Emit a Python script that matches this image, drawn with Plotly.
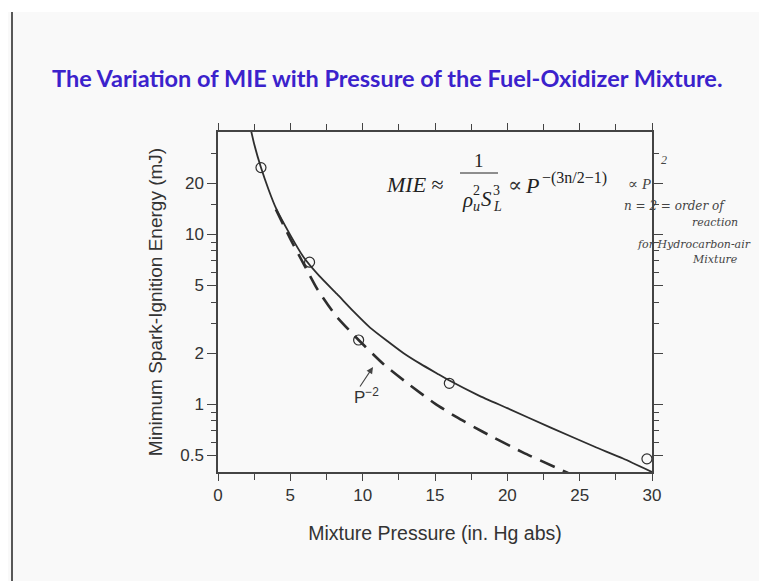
import numpy as np
import plotly.graph_objects as go

# ---- data ----
solid_x = [2.1, 2.5, 2.97, 3.5, 4.0, 5.0, 5.92, 7.0, 8.22, 9.4, 10.53, 11.7, 12.83, 14.0, 15.14, 16.0, 18.0, 20.0, 23.0, 26.0, 28.0, 30.0]
solid_y = [48.0, 34.0, 24.7, 18.3, 14.3, 9.9, 7.34, 5.7, 4.46, 3.5, 2.82, 2.36, 2.0, 1.73, 1.52, 1.38, 1.13, 0.95, 0.73, 0.565, 0.48, 0.40]

dashed_x = [4.0, 5.0, 6.0, 6.84, 8.11, 9.72, 11.45, 13.3, 15.0, 16.5, 18.3, 21.1, 24.2]
dashed_y = [14.0, 9.4, 6.5, 4.8, 3.35, 2.39, 1.72, 1.29, 1.01, 0.84, 0.69, 0.52, 0.395]

circle_x = [2.97, 6.33, 9.72, 15.99, 29.65]
circle_y = [24.7, 6.86, 2.39, 1.33, 0.478]

x_ticks = [0, 5, 10, 15, 20, 25, 30]
y_ticks = [0.5, 1, 2, 5, 10, 20]
y_tick_text = ["0.5", "1", "2", "5", "10", "20"]
y_minor = [0.6, 0.7, 0.8, 0.9, 3, 4, 6, 7, 8, 9, 15, 30]

title_text = "The Variation of MIE with Pressure of the Fuel-Oxidizer Mixture."
x_title = "Mixture Pressure (in. Hg abs)"
y_title = "Minimum Spark-Ignition Energy (mJ)"

# ---- layout geometry (page pixels; the page body adds an 8px offset) ----
OFF = 8
PW, PH = 767, 581
W, H = PW - OFF, PH - OFF
L, R, T, B = 218, 652, 132, 472


def px(xp):
    return (xp - L) / (R - L)


def py(yp):
    return (B - yp) / (B - T)


INK = "#2e2e2e"

fig = go.Figure()
fig.add_trace(go.Scatter(x=solid_x, y=solid_y, mode="lines",
                         line=dict(color=INK, width=1.8, shape="spline", smoothing=0.5),
                         showlegend=False))
fig.add_trace(go.Scatter(x=dashed_x, y=dashed_y, mode="lines",
                         line=dict(color=INK, width=2.6, dash="16px,9px", shape="spline", smoothing=0.5),
                         showlegend=False))
fig.add_trace(go.Scatter(x=circle_x, y=circle_y, mode="markers",
                         marker=dict(symbol="circle-open", size=10, color=INK,
                                     line=dict(width=1.2, color=INK)),
                         showlegend=False))

axis_font = dict(family="Liberation Sans, Arial, sans-serif", size=17, color="#333")

fig.update_layout(
    width=W, height=H,
    margin=dict(l=L - OFF, r=PW - R, t=T - OFF, b=PH - B, pad=0, autoexpand=False),
    paper_bgcolor="#f9f9f9",
    plot_bgcolor="#f9f9f9",
    font=axis_font,
    xaxis=dict(range=[0, 30], tickvals=x_ticks, ticks="outside", ticklen=7, tickwidth=1.3,
               tickcolor="#444", showline=True, linecolor="#444", linewidth=1.5,
               mirror="ticks", showgrid=False, zeroline=False, automargin=False,
               minor=dict(dtick=2.5, tick0=0, ticks="outside", ticklen=6, tickwidth=1.3, tickcolor="#444"),
               title=dict(text=x_title, font=dict(size=19.5, color="#333"), standoff=22),
               tickfont=axis_font),
    yaxis=dict(type="log", range=[np.log10(0.4), np.log10(40)], tickvals=y_ticks,
               ticktext=y_tick_text, ticks="outside", ticklen=9, tickwidth=1.3,
               tickcolor="#444", showline=True, linecolor="#444", linewidth=1.5,
               mirror="ticks", showgrid=False, zeroline=False, automargin=False,
               minor=dict(tickvals=y_minor, ticks="outside", ticklen=5, tickwidth=1.2, tickcolor="#444"),
               title=dict(text=y_title, font=dict(size=19, color="#333"), standoff=13),
               tickfont=axis_font),
)

ann = []
# Title
ann.append(dict(xref="paper", yref="paper", x=px(387), y=py(78), xanchor="center", yanchor="middle",
                text="<b>" + title_text + "</b>", showarrow=False,
                font=dict(family="Lato, Open Sans, sans-serif", size=23.5, color="#3b22cc")))

serif = "Liberation Serif, DejaVu Serif, serif"
F = "#222"


def t(x, y, text, size, anchor="left", family=serif, color=F):
    ann.append(dict(xref="paper", yref="paper", x=px(x), y=py(y), xanchor=anchor, yanchor="middle",
                    text=text, showarrow=False, font=dict(family=family, size=size, color=color)))


# Formula
t(384, 184, "<i>MIE</i> ≈", 22)
t(479, 160, "1", 19, "center")
t(460, 200, "<i>ρ</i>", 21)
t(471, 190, "2", 14)
t(471, 206, "<i>u</i>", 14)
t(479, 199, "<i>S</i>", 21)
t(491, 190, "3", 14)
t(491, 206, "<i>L</i>", 14)
t(506, 185, "∝", 21, color="#333")
t(523, 185, "<i>P</i>", 22)
t(540, 178, "−(3n/2−1)", 16)

hand = "DejaVu Serif, serif"
t(626, 184, "<i>∝ P</i>", 15, color="#444")
t(664, 160, "<i>2</i>", 12, "center", color="#444")
t(622, 206, "<i>n = 2 = order of</i>", 12, family=hand, color="#444")
t(690, 222, "<i>reaction</i>", 11, family=hand, color="#444")
t(635, 244, "<i>for Hydrocarbon-air</i>", 11, family=hand, color="#444")
t(690, 259, "<i>Mixture</i>", 11, family=hand, color="#444")

# P^-2 label with arrow
ann.append(dict(xref="paper", yref="paper", x=px(373), y=py(367), ax=-14, ay=21,
                axref="pixel", ayref="pixel", showarrow=True, arrowhead=2, arrowsize=1.2,
                arrowwidth=1.1, arrowcolor="#444", text=""))
t(366, 396, "P<sup>−2</sup>", 17, "center", family="Liberation Sans, Arial, sans-serif", color="#333")

fig.update_layout(annotations=ann)

shapes = [
    # fraction bar
    dict(type="line", xref="paper", yref="paper", x0=px(460), x1=px(498), y0=py(173), y1=py(173),
         line=dict(color="#222", width=1)),
    # white strip at top of the slide
    dict(type="rect", xref="paper", yref="paper", x0=px(0), x1=px(PW), y0=py(12), y1=py(0),
         line=dict(width=0), fillcolor="white", layer="below"),
    # left slide border
    dict(type="line", xref="paper", yref="paper", x0=px(12), x1=px(12), y0=py(12), y1=py(PH),
         line=dict(color="#222", width=1.5)),
]
fig.update_layout(shapes=shapes)

fig.write_html("out.html")
